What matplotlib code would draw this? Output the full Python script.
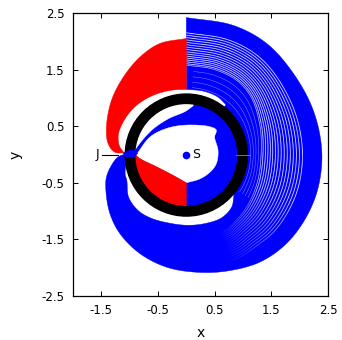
import numpy as np
import matplotlib
matplotlib.use("Agg")
import matplotlib.pyplot as plt
from matplotlib.patches import Polygon, Circle
from matplotlib.collections import LineCollection

# ---- data (data coordinates) ----
xticks = [-1.5, -0.5, 0.5, 1.5, 2.5]
yticks = [-2.5, -1.5, -0.5, 0.5, 1.5, 2.5]
xtick_labels = ["-1.5", "-0.5", "0.5", "1.5", "2.5"]
ytick_labels = ["-2.5", "-1.5", "-0.5", "0.5", "1.5", "2.5"]

sun = (0.0, 0.0)
jupiter = (-1.0, 0.0)
ring_radius = 0.995
ring_width = 0.19

# outer blue band, outer edge (clockwise from top)
blue_outer_x = [0.0, 0.83, 1.42, 1.89, 2.24, 2.39, 2.33, 2.12, 1.77, 1.30, 0.71, 0.18, -0.35, -0.82, -1.17, -1.35, -1.42, -1.41, -1.32, -1.20, -1.02]
blue_outer_y = [2.42, 2.28, 1.96, 1.43, 0.78, 0.07, -0.57, -1.10, -1.57, -1.90, -2.06, -2.08, -1.99, -1.75, -1.40, -1.04, -0.63, -0.40, -0.19, -0.04, 0.02]
# inner edge of the blue band, from J round the bottom
blue_inner_x = [-1.02, -1.05, -1.08, -1.05, -1.02, -0.85, -0.61, -0.26, 0.03, 0.33, 0.62, 0.80, 0.84]
blue_inner_y = [0.00, -0.10, -0.34, -0.46, -0.75, -0.99, -1.13, -1.22, -1.25, -1.22, -1.12, -0.93, -0.72]
# inner edge at the top (right of x=0)
blue_top_x = [0.70, 0.55, 0.30, 0.0]
blue_top_y = [0.88, 1.02, 1.12, 1.15]
# lowest strand of the widely spaced outer family
strand_x = [0.0, 0.50, 0.90, 1.15, 1.30, 1.32, 1.25, 1.05, 0.75]
strand_y = [1.58, 1.50, 1.30, 1.00, 0.50, 0.00, -0.50, -0.95, -1.30]
gap_fractions = [0.03, 0.07, 0.11, 0.15, 0.19, 0.235, 0.28, 0.33, 0.38, 0.43,
                 0.48, 0.53, 0.58, 0.63, 0.68]
hatch_fractions = [0.2, 0.4, 0.6, 0.8]

# red upper region
red_up_outer_x = [0.0, -0.47, -0.82, -1.11, -1.32, -1.41, -1.38, -1.26, -1.08]
red_up_outer_y = [2.05, 1.96, 1.72, 1.37, 0.96, 0.49, 0.19, 0.04, 0.03]
red_up_inner_x = [-1.10, -1.18, -1.20, -1.10, -0.90, -0.62, -0.30, 0.0]
red_up_inner_y = [0.03, 0.15, 0.35, 0.60, 0.85, 1.03, 1.13, 1.15]

# red lower region
red_low_top_x = [-0.90, -0.82, -0.52, -0.23, 0.0]
red_low_top_y = [0.00, -0.07, -0.22, -0.37, -0.50]
red_low_bot_x = [0.0, -0.25, -0.50, -0.75, -0.90, -0.95]
red_low_bot_y = [-0.93, -0.88, -0.76, -0.52, -0.22, -0.02]

# white interior (teardrop) inside the ring
white_in_x = [-0.88, -0.64, -0.35, 0.0, 0.42, 0.53, 0.50, 0.56, 0.53, 0.42, 0.24, 0.0]
white_in_y = [0.0, 0.31, 0.46, 0.52, 0.49, 0.43, 0.31, 0.07, -0.16, -0.31, -0.43, -0.50]
# upper edge of the blue lobe inside the ring
lobe_x = [-0.92, -0.85, -0.61, -0.32, -0.02, 0.12]
lobe_y = [0.05, 0.16, 0.43, 0.63, 0.76, 0.86]

BLUE = "#0000ff"
RED = "#ff0000"


def smooth(xs, ys, n=12):
    """Centripetal Catmull-Rom curve through the read points."""
    p = np.column_stack([xs, ys]).astype(float)
    p = np.vstack([2 * p[0] - p[1], p, 2 * p[-1] - p[-2]])
    out = []
    for i in range(1, len(p) - 2):
        p0, p1, p2, p3 = p[i - 1], p[i], p[i + 1], p[i + 2]
        def tj(ti, a, b):
            return ti + max(np.linalg.norm(b - a), 1e-6) ** 0.5
        t0 = 0.0
        t1 = tj(t0, p0, p1)
        t2 = tj(t1, p1, p2)
        t3 = tj(t2, p2, p3)
        t = np.linspace(t1, t2, n, endpoint=False)[:, None]
        a1 = (t1 - t) / (t1 - t0) * p0 + (t - t0) / (t1 - t0) * p1
        a2 = (t2 - t) / (t2 - t1) * p1 + (t - t1) / (t2 - t1) * p2
        a3 = (t3 - t) / (t3 - t2) * p2 + (t - t2) / (t3 - t2) * p3
        b1 = (t2 - t) / (t2 - t0) * a1 + (t - t0) / (t2 - t0) * a2
        b2 = (t3 - t) / (t3 - t1) * a2 + (t - t1) / (t3 - t1) * a3
        c = (t2 - t) / (t2 - t1) * b1 + (t - t1) / (t2 - t1) * b2
        out.append(c)
    out.append(p[-2][None, :])
    return np.vstack(out)


fig = plt.figure(figsize=(3.42, 3.40), dpi=100)
ax = fig.add_axes([73 / 342, 44 / 340, 255 / 342, 283 / 340])
ax.set_xlim(-2.0, 2.5)
ax.set_ylim(-2.5, 2.5)


def poly(pieces, color, z):
    pts = np.vstack(pieces)
    ax.add_patch(Polygon(pts, closed=True, facecolor=color, edgecolor=color,
                         linewidth=0.3, zorder=z))


def arc(r, a0, a1, n=60):
    t = np.linspace(a0, a1, n)
    return np.column_stack([r * np.cos(t), r * np.sin(t)])


# outer blue band polygon
ang_a = np.arctan2(blue_inner_y[-1], blue_inner_x[-1])
ang_b = np.arctan2(blue_top_y[0], blue_top_x[0])
poly([smooth(blue_outer_x, blue_outer_y), smooth(blue_inner_x, blue_inner_y),
      arc(1.05, ang_a, ang_b), smooth(blue_top_x, blue_top_y)], BLUE, 1)

# white gaps between strands of the outer family
so = smooth(blue_outer_x[:10], blue_outer_y[:10], 20)
ss = smooth(strand_x, strand_y, 20)
th_o = np.unwrap(np.arctan2(so[:, 1], so[:, 0])); r_o = np.hypot(so[:, 0], so[:, 1])
th_s = np.unwrap(np.arctan2(ss[:, 1], ss[:, 0])); r_s = np.hypot(ss[:, 0], ss[:, 1])
theta = np.linspace(np.pi / 2 - 0.001, np.radians(-68), 300)
ro = np.interp(theta, th_o[::-1], r_o[::-1])
rs = np.interp(theta, th_s[::-1], r_s[::-1])
fade = np.clip((theta - np.radians(-68)) / np.radians(45), 0, 1)
for f in gap_fractions:
    rr = rs + f * (ro - rs)
    pts = np.column_stack([rr * np.cos(theta), rr * np.sin(theta)])
    segs = np.stack([pts[:-1], pts[1:]], axis=1)
    cols = [(1, 1, 1, a) for a in fade[:-1]]
    ax.add_collection(LineCollection(segs, colors=cols, linewidths=0.55, zorder=2))
# faint cross-hatch in the inner family
theta2 = np.linspace(np.radians(85), np.radians(-35), 200)
rs2 = np.interp(theta2, th_s[::-1], r_s[::-1])
for f in hatch_fractions:
    rr = 1.09 + f * (rs2 - 1.09)
    ax.plot(rr * np.cos(theta2), rr * np.sin(theta2), color="white", lw=0.4, alpha=0.45, zorder=2)
pts = np.column_stack([rs * np.cos(theta), rs * np.sin(theta)])
segs = np.stack([pts[:-1], pts[1:]], axis=1)
cols = [(1, 1, 1, 0.8 * a) for a in fade[:-1]]
ax.add_collection(LineCollection(segs, colors=cols, linewidths=0.5, zorder=2))

# red upper region
poly([smooth(red_up_outer_x, red_up_outer_y), smooth(red_up_inner_x, red_up_inner_y)], RED, 3)

# blue disk inside ring
ax.add_patch(Circle(sun, 0.92, facecolor=BLUE, edgecolor="none", zorder=3))
# white gap between ring and lobe (upper-left)
poly([smooth(lobe_x, lobe_y), arc(0.95, np.arctan2(lobe_y[-1], lobe_x[-1]), np.radians(176))], "white", 4)
# white teardrop and red lower region
tear = smooth(white_in_x, white_in_y)
rtop = smooth(red_low_top_x, red_low_top_y)
poly([tear, rtop[::-1]], "white", 4)
poly([rtop, smooth(red_low_bot_x, red_low_bot_y)], RED, 5)

# black ring (orbit)
ax.add_patch(Circle((0.0, -0.01), ring_radius, fill=False, edgecolor="black",
                    linewidth=ring_width * 56.7 * 0.72, zorder=6))
# blue crossing at J
poly([np.array([[-1.12, 0.02], [-1.0, 0.08], [-0.9, 0.07], [-0.86, 0.02],
                [-0.92, -0.05], [-1.05, -0.06]])], BLUE, 7)

# grey marker line at the right
ax.plot([0.88, 1.12], [0.0, 0.0], color="#888888", lw=0.6, zorder=7)

# Sun and Jupiter labels
ax.plot([sun[0]], [sun[1]], "o", color=BLUE, markersize=4.5, zorder=8)
ax.text(0.1, 0.0, "S", fontsize=9, va="center", ha="left", zorder=8)
ax.plot([-1.49, -1.2], [jupiter[1], jupiter[1]], color="black", lw=0.8, zorder=8)
ax.text(-1.54, 0.0, "J", fontsize=9, va="center", ha="right", zorder=8)

ax.set_xticks(xticks)
ax.set_xticklabels(xtick_labels)
ax.set_yticks(yticks)
ax.set_yticklabels(ytick_labels)
ax.tick_params(direction="in", length=3.5, width=0.7, top=True, right=True,
               labelsize=8.5, pad=6)
for s in ax.spines.values():
    s.set_linewidth(0.9)
ax.set_xlabel("x", fontsize=10, labelpad=6)
ax.set_ylabel("y", fontsize=10, labelpad=14)

fig.savefig("out.png", dpi=100)
